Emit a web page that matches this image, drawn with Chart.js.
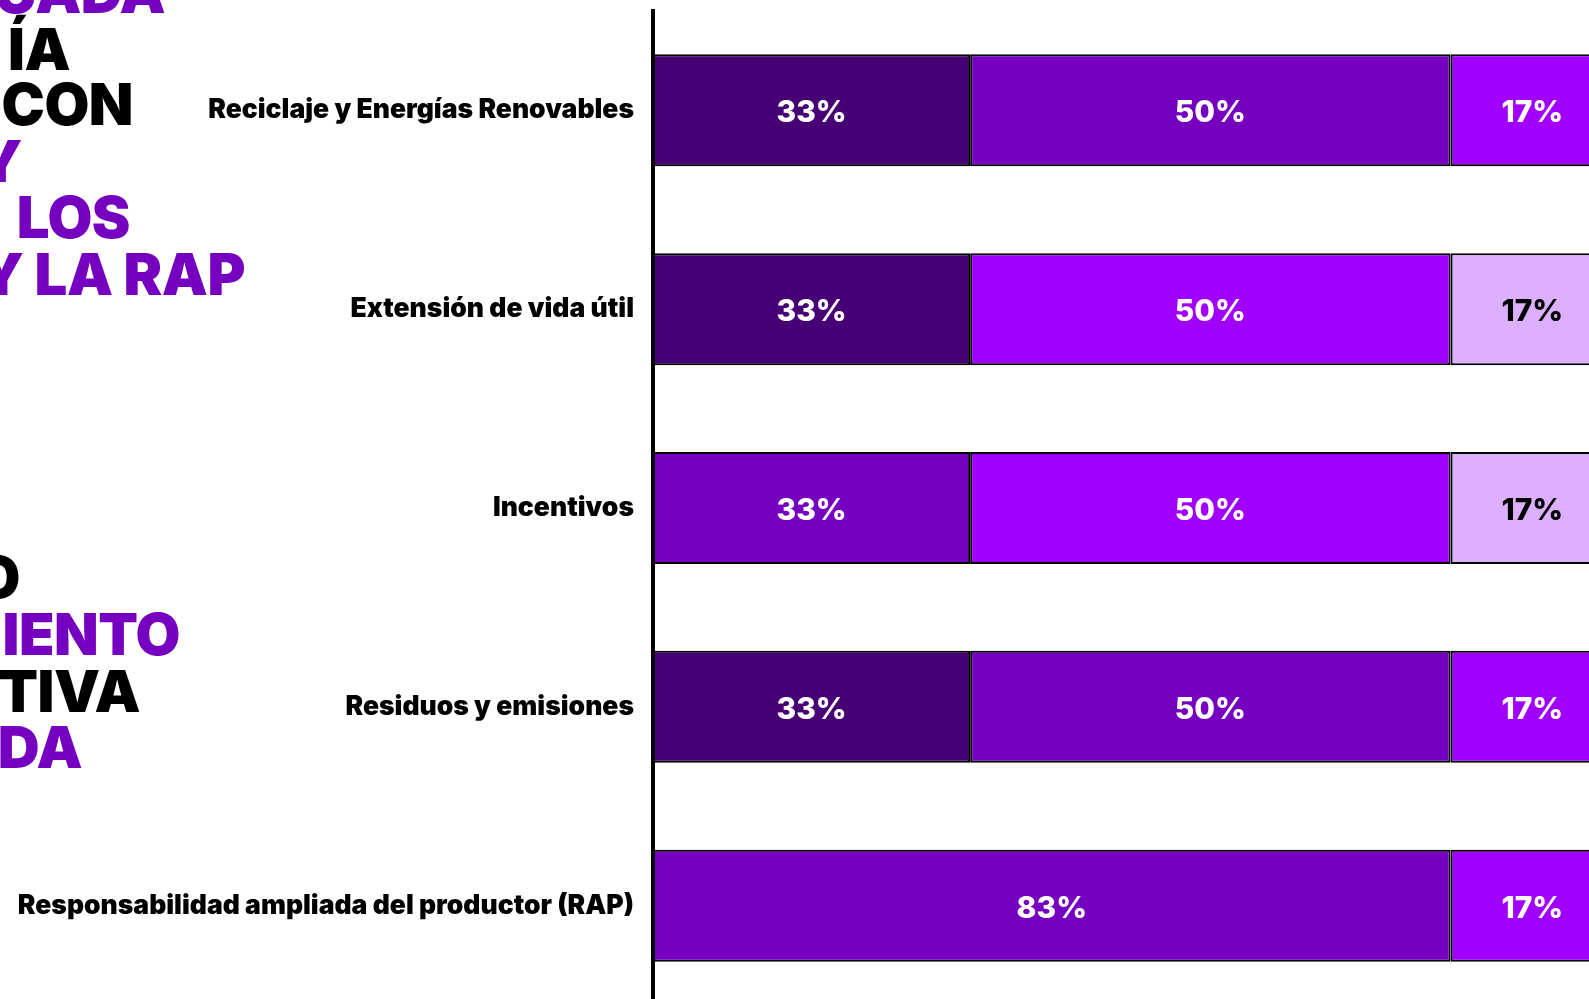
<!DOCTYPE html>
<html lang="es">
<head>
<meta charset="utf-8">
<script src="https://cdn.jsdelivr.net/npm/chart.js@4.4.1/dist/chart.umd.min.js"></script>
<style>
  html, body { margin: 0; padding: 0; background: #fff; overflow: hidden; }
  #page { position: relative; width: 1589px; height: 999px; overflow: hidden; }
  .head {
    position: absolute;
    font-family: Inter, "Noto Sans", sans-serif;
    font-weight: 900;
    font-size: 58px;
    line-height: 56px;
    white-space: nowrap;
    letter-spacing: -0.5px;
  }
  .purple { color: #7500c0; }
  .black { color: #000; }
  #wrap { position: absolute; left: 0; top: -24px; width: 1620px; height: 1064px; }
</style>
</head>
<body>
<div id="page">
  <div class="head purple" style="right:1424px; top:-36px">UADA</div>
  <div class="head black"  style="right:1519px; top:21px">ÍA</div>
  <div class="head black"  style="right:1456px; top:76px">CON</div>
  <div class="head purple" style="right:1567px; top:133px">Y</div>
  <div class="head purple" style="right:1459px; top:189px">LOS</div>
  <div class="head purple" style="right:1344px; top:246px">Y LA RAP</div>
  <div class="head black"  style="right:1569px; top:549px">O</div>
  <div class="head purple" style="right:1409px; top:606px">IENTO</div>
  <div class="head black"  style="right:1449px; top:663px">TIVA</div>
  <div class="head purple" style="right:1507px; top:719px">DA</div>
  <div id="wrap"><canvas id="chart"></canvas></div>
</div>
<script>
const categories = [
  'Reciclaje y Energías Renovables',
  'Extensión de vida útil',
  'Incentivos',
  'Residuos y emisiones',
  'Responsabilidad ampliada del productor (RAP)'
];

// one series per shade, stacked left to right (null = no segment)
const darkShare   = [33, 33, null, 33, null];
const midShare    = [50, null, 33, 50, 83];
const brightShare = [17, 50, 50, 17, 17];
const lightShare  = [null, 17, 17, null, null];

const shades = {
  dark: '#460073',
  mid: '#7500c0',
  bright: '#a100ff',
  light: '#dcafff'
};

const FONT = 'Inter, "Noto Sans", sans-serif';

// writes the percentage in the middle of each segment
const segmentLabels = {
  id: 'segmentLabels',
  afterDatasetsDraw(chart) {
    const ctx = chart.ctx;
    ctx.save();
    ctx.font = '800 30px ' + FONT;
    ctx.textAlign = 'center';
    ctx.textBaseline = 'middle';
    chart.data.datasets.forEach((ds, i) => {
      const meta = chart.getDatasetMeta(i);
      meta.data.forEach((bar, j) => {
        const v = ds.data[j];
        if (v === null || v === undefined) return;
        const p = bar.getCenterPoint();
        ctx.fillStyle = ds.textColor;
        ctx.fillText(v + '%', p.x, p.y + 3);
      });
    });
    ctx.restore();
  }
};

function series(data, color, textColor) {
  return {
    data: data,
    backgroundColor: color,
    borderColor: '#000',
    borderWidth: 2,
    borderSkipped: false,
    textColor: textColor,
    barPercentage: 0.563,
    categoryPercentage: 1
  };
}

new Chart(document.getElementById('chart'), {
  type: 'bar',
  data: {
    labels: categories,
    datasets: [
      series(darkShare, shades.dark, '#fff'),
      series(midShare, shades.mid, '#fff'),
      series(brightShare, shades.bright, '#fff'),
      series(lightShare, shades.light, '#000')
    ]
  },
  options: {
    indexAxis: 'y',
    responsive: true,
    maintainAspectRatio: false,
    animation: false,
    layout: { padding: { top: 10, bottom: 1, right: 6, left: 0 } },
    plugins: {
      legend: { display: false },
      tooltip: { enabled: false }
    },
    scales: {
      x: {
        stacked: true,
        min: 0,
        max: 100,
        display: false
      },
      y: {
        stacked: true,
        grid: { display: false, drawTicks: false },
        border: { display: true, color: '#000', width: 4 },
        ticks: {
          padding: 19,
          color: '#000',
          font: { family: FONT, size: 26.5, weight: '900' }
        },
        afterFit(scale) { scale.width = 653; }
      }
    }
  },
  plugins: [segmentLabels]
});
</script>
</body>
</html>
